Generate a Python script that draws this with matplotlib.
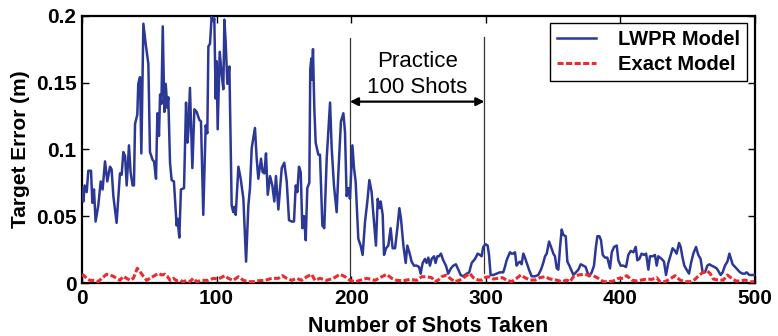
import matplotlib
matplotlib.use("Agg")
import matplotlib.pyplot as plt

plt.rcParams['font.family'] = ['Liberation Sans', 'DejaVu Sans']

# LWPR model error (shot, value)
lwpr_shots = [0, 1, 2, 3.5, 4.7, 6.7, 7.7, 8.9, 10.1, 12.1, 13.9, 15.3, 17.1, 18.8, 20.8, 22, 23.3, 25.7,
              28.2, 29.5, 30.7, 32, 33.2, 34.9, 36.1, 37.6, 38.6, 39.4, 41.1, 41.8, 43.1, 44.1, 45.6, 47.3,
              49.3, 50.5, 52.5, 53.5, 55, 56, 57.2, 58, 59, 60, 61.2, 62.2, 63.4, 64.1, 65.4, 66.6, 68.3,
              70.3, 71, 72.3, 73.5, 75.8, 77.3, 78.3, 79, 80.2, 82, 83.5, 85.2, 87.2, 88.4, 90.1, 91.9,
              93.1, 93.9, 95.1, 96.3, 97.6, 98.3, 99.3, 100, 100.8, 102.3, 103.8, 105, 105.8, 106.7, 108,
              109.5, 111.2, 112.4, 113.2, 114.2, 116.2, 117.9, 119.9, 121.9, 123.6, 124.8, 126.1, 128.5,
              129.8, 131, 133, 134.2, 135.5, 136.7, 138, 139.7, 141.4, 142.9, 144.1, 145.9, 148.4, 150.3,
              152.1, 153.8, 155.8, 157.5, 158.8, 160, 161.2, 162.5, 163.7, 165, 166.2, 167.4, 168.9,
              169.6, 170.4, 171.0, 171.6, 172.6, 173.6, 175.6, 176.8, 178.6, 180, 181.8, 184.3, 185.5,
              187.2, 189.2, 190.5, 192.4, 194.2, 195.4, 196.6, 197.9, 199.1, 200.9, 202.1, 203.3, 205.3,
              207, 208.5, 210.3, 212, 213.5, 215.2, 216.5, 218.4, 219.7, 220.9, 221.9, 223.4, 224.4,
              225.9, 227.6, 229.3, 230.8, 232.6, 234.3, 235.8, 237, 238.8, 240.5, 241.7, 243.2, 244.9,
              246.7, 248.7, 250.4, 251.6, 253.1, 254.8, 256, 257.3, 258.5, 259.8, 261.5, 262.7, 264,
              265.2, 266.7, 268.4, 270.4, 272.1, 274.1, 275.9, 277.8, 279.6, 281.3, 283.3, 285.8, 287.7,
              289.5, 292, 294, 295.7, 296.9, 298.1, 299.9, 301.4, 302.4, 303.6, 305.6, 308, 310.5, 313,
              314.2, 315.5, 316.7, 318, 319.2, 320.4, 321.7, 322.9, 324.2, 325.4, 326.6, 327.9, 329.1,
              330.4, 332.1, 334.1, 336.5, 339, 341, 342.7, 344, 345.3, 347, 348.5, 350.2, 351.4, 352.7,
              353.9, 355.2, 356.4, 357.6, 359.4, 360.6, 362.1, 363.8, 365.1, 367, 368.8, 370.5, 372.5,
              374.2, 375.5, 376.7, 378.7, 380.4, 381.7, 382.9, 384.4, 385.6, 386.9, 388.6, 390.3, 392.3,
              393.6, 395.3, 397.3, 398.5, 400.2, 402.2, 404.2, 405.9, 407.7, 409.7, 411.4, 412.6, 414.1,
              415.8, 417.6, 419.1, 420.8, 422, 424, 425.7, 427, 428.2, 430.7, 432.4, 433.9, 435.6, 437.4,
              438.8, 440.6, 441.8, 443.6, 444.8, 446, 447.5, 449.2, 451, 452.5, 454.2, 456.2, 457.9,
              459.6, 461.1, 462.9, 464.6, 466.1, 467.8, 469.8, 471.5, 472.8, 474.5, 476, 477.7, 479.5,
              481, 481.9, 483.4, 485.2, 486.9, 488.9, 490.9, 492.6, 493.8, 495.8, 497.5, 499.5]
lwpr_err = [0.071, 0.061, 0.073, 0.068, 0.084, 0.084, 0.060, 0.070, 0.046, 0.058, 0.076, 0.070, 0.091, 0.076,
            0.087, 0.085, 0.065, 0.045, 0.082, 0.081, 0.098, 0.095, 0.073, 0.103, 0.083, 0.073, 0.073, 0.119,
            0.126, 0.149, 0.154, 0.097, 0.194, 0.179, 0.164, 0.098, 0.092, 0.091, 0.078, 0.127, 0.110, 0.141,
            0.134, 0.192, 0.128, 0.149, 0.131, 0.139, 0.090, 0.077, 0.076, 0.043, 0.048, 0.034, 0.070, 0.071,
            0.135, 0.105, 0.113, 0.146, 0.086, 0.130, 0.128, 0.122, 0.121, 0.051, 0.118, 0.112, 0.177, 0.179,
            0.199, 0.196, 0.198, 0.138, 0.166, 0.115, 0.173, 0.156, 0.145, 0.197, 0.181, 0.149, 0.162, 0.058,
            0.053, 0.057, 0.051, 0.087, 0.078, 0.063, 0.016, 0.058, 0.071, 0.101, 0.116, 0.093, 0.078, 0.093,
            0.083, 0.082, 0.097, 0.066, 0.080, 0.073, 0.061, 0.080, 0.055, 0.086, 0.090, 0.076, 0.047, 0.046,
            0.046, 0.073, 0.068, 0.087, 0.083, 0.041, 0.050, 0.032, 0.071, 0.075,
            0.160, 0.168, 0.152, 0.175, 0.131, 0.105, 0.096, 0.096, 0.043, 0.041, 0.093, 0.135, 0.101,
            0.073, 0.053, 0.083, 0.121, 0.127, 0.113, 0.065, 0.071, 0.063, 0.103, 0.086, 0.076, 0.033,
            0.028, 0.021, 0.046, 0.061, 0.077, 0.068, 0.051, 0.028, 0.063, 0.056, 0.061, 0.051, 0.021,
            0.026, 0.028, 0.041, 0.026, 0.026, 0.041, 0.056, 0.048, 0.028, 0.015, 0.028, 0.023, 0.016,
            0.013, 0.013, 0.012, 0.007, 0.015, 0.018, 0.015, 0.019, 0.013, 0.018, 0.020, 0.015, 0.020,
            0.020, 0.022, 0.017, 0.013, 0.007, 0.011, 0.013, 0.014, 0.010, 0.006, 0.005, 0.007, 0.008,
            0.015, 0.018, 0.022, 0.021, 0.020, 0.027, 0.029, 0.028, 0.021, 0.006, 0.006, 0.007, 0.008, 0.008,
            0.012, 0.017, 0.020, 0.023, 0.022, 0.022, 0.023, 0.013, 0.015, 0.016, 0.014, 0.022, 0.019,
            0.015, 0.010, 0.005, 0.005, 0.006, 0.010, 0.015, 0.020, 0.022, 0.031, 0.027, 0.022, 0.020, 0.011,
            0.010, 0.027, 0.040, 0.036, 0.035, 0.016, 0.013, 0.009, 0.006, 0.008, 0.010, 0.014, 0.013,
            0.012, 0.008, 0.005, 0.008, 0.013, 0.026, 0.035, 0.035, 0.032, 0.021, 0.019, 0.019, 0.011,
            0.023, 0.027, 0.028, 0.017, 0.013, 0.013, 0.012, 0.021, 0.024, 0.023, 0.027, 0.017, 0.018,
            0.022, 0.021, 0.022, 0.010, 0.020, 0.020, 0.021, 0.013, 0.020, 0.018, 0.016, 0.006, 0.015, 0.021,
            0.026, 0.024, 0.022, 0.030, 0.027, 0.020, 0.013, 0.010, 0.007, 0.015, 0.022, 0.027, 0.021,
            0.018, 0.008, 0.008, 0.013, 0.014, 0.013, 0.012, 0.011, 0.009, 0.006, 0.008, 0.013, 0.016,
            0.022, 0.019, 0.014, 0.012, 0.010, 0.008, 0.007, 0.007, 0.008, 0.006, 0.006, 0.006]

# Exact model error (shot, value)
exact_shots = [0, 1.0, 3.5, 5.9, 9.6, 12.1, 14.6, 18.3, 20.8, 23.3, 25.7, 28.2, 30.7, 33.2, 35.7, 38.1, 41.1,
               43.1, 45.6, 48, 50.5, 53, 56.7, 59.2, 61.7, 63.4, 65.4, 67.9, 70.3, 72.8, 75.3, 77.8, 80.2,
               82.7, 85.2, 89, 93.9, 97.6, 101.3, 106.2, 108.7, 112.4, 116.2, 119.9, 123.6, 127.3, 131,
               136, 141, 145.9, 148.9, 152.1, 155.8, 159.5, 163.2, 167, 170.6, 173.1, 176.8, 181.8, 186.7,
               191.7, 195.4, 199.1, 202.8, 206.6, 211.5, 217.7, 222.7, 226.4, 230.1, 233.8, 238.8, 243.7,
               248.7, 252.4, 256.1, 259.8, 262.2, 264.7, 267.2, 270.9, 273.4, 277.1, 280.8, 284.5, 288.2,
               290.7, 294.4, 296.9, 299.4, 301.9, 305.6, 309.3, 312.3, 315.5, 319.2, 322.9, 326.1, 329.1,
               332.8, 336.5, 340.3, 344, 347.7, 352.7, 356.4, 360.1, 362.6, 365.1, 368.8, 372.5, 376.2,
               379.9, 383.6, 387.4, 391.1, 394.8, 398.5, 402.2, 404.7, 408.4, 412.1, 415.8, 419.6, 423.3,
               427, 429.4, 433.1, 436.9, 440.6, 444.3, 448, 451.7, 455.4, 458.7, 461.6, 464.6, 466.6, 469,
               472.8, 476.5, 479.5, 482.7, 485.9, 488.9, 492.6, 496.3, 499.5]
exact_err = [0.005, 0.006, 0.0035, 0.002, 0.002, 0.001, 0.0035, 0.0065, 0.006, 0.005, 0.0035, 0.002, 0.005,
             0.0035, 0.002, 0.0035, 0.011, 0.0085, 0.005, 0.002, 0.0035, 0.005, 0.0072, 0.006, 0.0065, 0.005,
             0.002, 0.0035, 0.0017, 0.002, 0.001, 0.002, 0.001, 0.0035, 0.001, 0.002, 0.002, 0.0035, 0.003,
             0.0055, 0.0035, 0.002, 0.0047, 0.002, 0.001, 0.001, 0.0017, 0.002, 0.0035, 0.0035, 0.0055,
             0.0035, 0.002, 0.0035, 0.002, 0.0047, 0.0065, 0.002, 0.0035, 0.002, 0.0035, 0.0065, 0.0047,
             0.002, 0.001, 0.002, 0.0035, 0.002, 0.0047, 0.0065, 0.0035, 0.002, 0.0017, 0.0027, 0.002,
             0.0047, 0.0047, 0.004, 0.001, 0.0022, 0.0047, 0.006, 0.0035, 0.001, 0.0022, 0.0047, 0.0072,
             0.004, 0.0022, 0.0022, 0.004, 0.0047, 0.003, 0.0035, 0.004, 0.0022, 0.001, 0.0035, 0.006, 0.004,
             0.0022, 0.0022, 0.004, 0.0047, 0.003, 0.0022, 0.001, 0.0022, 0.001, 0.0047, 0.006, 0.0065,
             0.006, 0.0055, 0.0035, 0.001, 0.001, 0.0015, 0.0035, 0.0035, 0.0055, 0.0022, 0.0015, 0.0022,
             0.003, 0.0027, 0.004, 0.001, 0.001, 0.003, 0.0055, 0.0022, 0.001, 0.001, 0.0027, 0.006, 0.008,
             0.009, 0.0072, 0.003, 0.0022, 0.0022, 0.006, 0.0035, 0.0015, 0.0015, 0.0022, 0.001, 0.001]

practice_start, practice_end = 199, 299
x_ticks = [0, 100, 200, 300, 400, 500]
y_ticks = [0, 0.05, 0.1, 0.15, 0.2]
y_tick_labels = ['0', '0.05', '0.1', '0.15', '0.2']

fig = plt.figure(figsize=(7.78, 3.36), dpi=100)
ax = fig.add_axes([0.1054, 0.1577, 0.8650, 0.7956])

ax.plot(lwpr_shots, lwpr_err, color='#2c3896', lw=1.8, label='LWPR Model', zorder=3)
ax.plot(exact_shots, exact_err, color='#ee2a2e', lw=2.2, ls=(0, (2.0, 0.8)), label='Exact Model', zorder=4)

ax.plot([practice_start, practice_start], [0.001, 0.183], color='#333333', lw=0.9, zorder=2)
ax.plot([practice_end, practice_end], [0.0075, 0.184], color='#333333', lw=0.9, zorder=2)
ax.annotate('', xy=(practice_start, 0.1357), xytext=(practice_end, 0.1357),
            arrowprops=dict(arrowstyle='<|-|>', color='black', lw=1.6, mutation_scale=12,
                            shrinkA=0, shrinkB=0), zorder=5)
mid = (practice_start + practice_end) / 2
ax.text(mid, 0.1655, 'Practice', ha='center', va='center', fontsize=16)
ax.text(mid, 0.1465, '100 Shots', ha='center', va='center', fontsize=16)

ax.set_xlim(0, 500)
ax.set_ylim(0, 0.2)
ax.set_xticks(x_ticks)
ax.set_yticks(y_ticks)
ax.set_yticklabels(y_tick_labels)
ax.tick_params(direction='in', top=True, right=True, length=5, width=1.0, labelsize=15, pad=4)
for lab in ax.get_xticklabels() + ax.get_yticklabels():
    lab.set_fontweight('bold')
for sp in ax.spines.values():
    sp.set_linewidth(1.6)

ax.set_xlabel('Number of Shots Taken', fontsize=15.5, fontweight='bold')
ax.xaxis.set_label_coords(0.515, -0.122)
ax.set_ylabel('Target Error (m)', fontsize=15, fontweight='bold', labelpad=4)

leg = ax.legend(loc='upper right', bbox_to_anchor=(0.988, 0.973), borderaxespad=0,
                prop={'weight': 'bold', 'size': 14.5}, fancybox=False, edgecolor='black',
                framealpha=1, handlelength=1.9, borderpad=0.35, labelspacing=0.3, handletextpad=1.1)
leg.get_frame().set_linewidth(1.0)

fig.savefig('out.png', dpi=100)
